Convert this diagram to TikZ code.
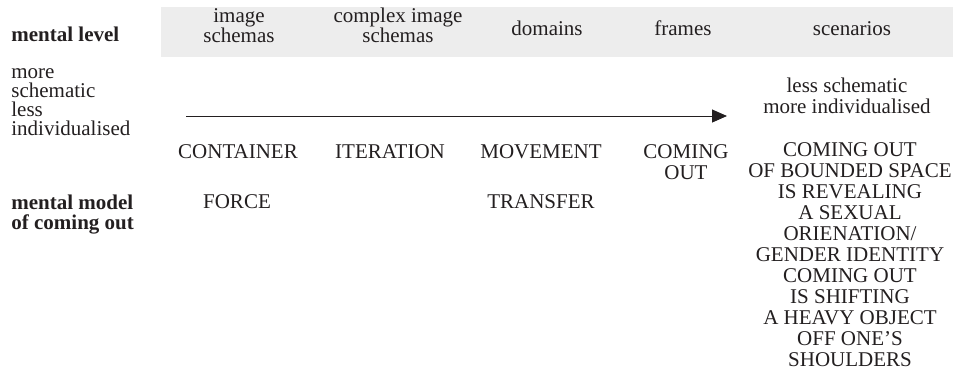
\documentclass[tikz,border=0pt]{standalone}
\usepackage{fontspec}
\setmainfont{Liberation Serif}
\usetikzlibrary{arrows.meta}
\definecolor{headgrey}{HTML}{EDEDED}
\definecolor{ink}{HTML}{231F20}

\begin{document}
\begin{tikzpicture}[x=0.5pt, y=-0.5pt,
		font=\fontsize{10.5}{10}\selectfont,
		every node/.style={inner sep=0pt, text=ink},
		lbl/.style={anchor=base west, align=left},
		col/.style={anchor=base, align=center},
		wide/.style={font=\fontsize{10.5}{10.5}\selectfont}]
		% base of a multi-line node sits on its last line
		\useasboundingbox (0,0) rectangle (960,372);
		\fill[headgrey] (161,7) rectangle (953,57);
		% header row
		\node[lbl, font=\fontsize{10.5}{10}\bfseries] (lvl) at (11,41) {mental level};
		\node[col] (imgs) at (239,42) {image\\schemas};
		\node[col] (cimgs) at (398,42) {complex image\\schemas};
		\node[col] (dom) at (547,35) {domains};
		\node[col] (frm) at (683,35) {frames};
		\node[col] (scn) at (852,35) {scenarios};
		% schematicity scale
		\node[lbl, font=\fontsize{10.5}{9.5}\selectfont] (more) at (11,135) {more\\schematic\\less\\individualised};
		\node[col, wide] (less) at (847,113) {less schematic\\more individualised};
		\coordinate (S) at (186,116);
		\coordinate (E) at (727,116);
		\draw[ink, line width=0.5pt, -{Triangle[length=7.5pt, width=6.5pt]}] (S) -- (E);
		% the model itself
		\node[col] (cont) at (238,158) {CONTAINER};
		\node[col] (iter) at (390,158) {ITERATION};
		\node[col] (mov) at (541,158) {MOVEMENT};
		\node[col, wide] (co) at (686,179) {COMING\\OUT};
		\node[col, wide] (sc) at (850,366) {COMING OUT\\OF BOUNDED SPACE\\IS REVEALING\\A SEXUAL\\ORIENATION/\\GENDER IDENTITY\\COMING OUT\\IS SHIFTING\\A HEAVY OBJECT\\OFF ONE'S\\SHOULDERS};
		\node[lbl, font=\fontsize{10.5}{10}\bfseries] (mod) at (11,229) {mental model\\of coming out};
		\node[col] (frc) at (237,208) {FORCE};
		\node[col] (trf) at (541,208) {TRANSFER};
\end{tikzpicture}
\end{document}
